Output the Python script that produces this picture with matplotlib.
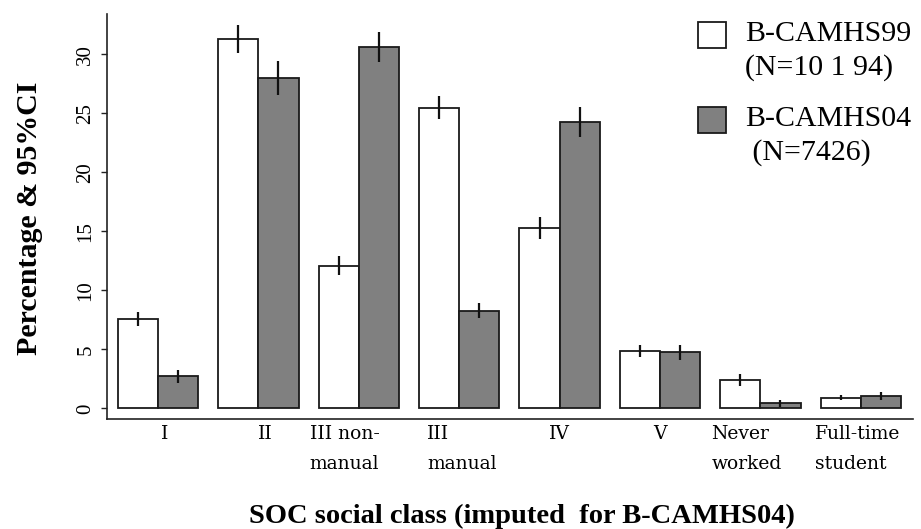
import numpy as np
import matplotlib
matplotlib.use("Agg")
import matplotlib.pyplot as plt
from matplotlib.patches import Rectangle

# Social class categories (SOC, imputed for B-CAMHS04)
categories = ["I", "II", "III non-\nmanual", "III\nmanual", "IV", "V",
              "Never\nworked", "Full-time\nstudent"]
label_shift = [0.07, 0.07, -0.14, 0.03, 0.0, 0.0, -0.14, -0.03]

# Percentages with 95% CI half-widths
pct_99 = [7.6, 31.3, 12.1, 25.5, 15.3, 4.9, 2.4, 0.9]
ci_99 = [0.6, 1.2, 0.8, 1.0, 0.9, 0.5, 0.5, 0.22]
pct_04 = [2.75, 28.0, 30.6, 8.3, 24.3, 4.75, 0.44, 1.06]
ci_04 = [0.55, 1.45, 1.27, 0.64, 1.27, 0.6, 0.3, 0.33]

series_names = ["B-CAMHS99\n(N=10 1 94)", "B-CAMHS04\n (N=7426)"]
yticks = [0, 5, 10, 15, 20, 25, 30]

W, H = 921, 529
fig = plt.figure(figsize=(W / 100, H / 100), dpi=100)
ax = fig.add_axes([106.5 / W, 1 - 418.5 / H, 806.5 / W, 404.5 / H])

x = np.arange(len(categories))
bw = 0.4
edge = "#1a1a1a"
ax.bar(x - bw / 2, pct_99, width=bw, color="white", edgecolor=edge,
       linewidth=1.3, zorder=2)
ax.bar(x + bw / 2, pct_04, width=bw, color="#808080", edgecolor=edge,
       linewidth=1.3, zorder=2)
ax.errorbar(x - bw / 2, pct_99, yerr=ci_99, fmt="none", ecolor="#111111",
            elinewidth=1.6, capsize=0, zorder=3)
ax.errorbar(x + bw / 2, pct_04, yerr=ci_04, fmt="none", ecolor="#111111",
            elinewidth=1.6, capsize=0, zorder=3)

ax.set_xlim(-0.513, 7.52)
ax.set_ylim(-0.85, 33.43)

for s in ("top", "right"):
    ax.spines[s].set_visible(False)
for s in ("left", "bottom"):
    ax.spines[s].set_color("#222222")
    ax.spines[s].set_linewidth(1.2)

ax.set_yticks(yticks)
ax.set_yticklabels([str(v) for v in yticks], rotation=90, va="center",
                   family="Liberation Serif", fontsize=15)
ax.tick_params(axis="y", length=4, width=1.0, color="#222222", pad=4)

ax.set_xticks(x + np.array(label_shift))
ax.set_xticklabels(categories, family="DejaVu Serif", fontsize=13.5,
                   linespacing=1.8, multialignment="left")
ax.tick_params(axis="x", length=0, pad=5)

fig.text(30 / W, 1 - 218 / H, "Percentage & 95%CI", rotation=90,
         ha="center", va="center", family="Liberation Serif",
         fontweight="bold", fontsize=21.5)
fig.text(522 / W, 1 - 516 / H, "SOC social class (imputed  for B-CAMHS04)",
         ha="center", va="center", family="Liberation Serif",
         fontweight="bold", fontsize=20.5)

# Legend keys drawn in figure space
fills = ["white", "#808080"]
key_tops = [22, 107]
for fc, top, name in zip(fills, key_tops, series_names):
    fig.patches.append(Rectangle((698 / W, 1 - (top + 26) / H), 28 / W, 26 / H,
                                 transform=fig.transFigure, facecolor=fc,
                                 edgecolor=edge, linewidth=1.3))
    fig.text(745 / W, 1 - (top - 1) / H, name, ha="left", va="top",
             family="Liberation Serif", fontsize=21.5, linespacing=1.35)

fig.savefig("out.png", dpi=100)
